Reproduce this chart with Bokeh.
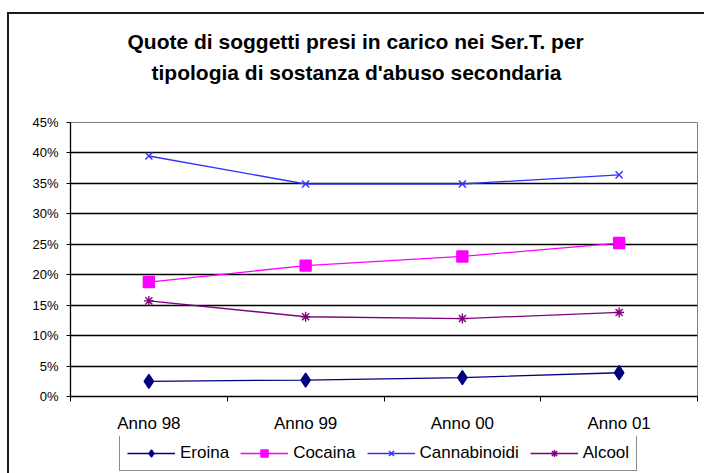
from bokeh.plotting import figure
from bokeh.layouts import column
from bokeh.models import Range1d, FixedTicker, NumeralTickFormatter, Title, Legend, LegendItem
from bokeh.embed import file_html
from bokeh.resources import INLINE
import numpy as np

categories = ["Anno 98", "Anno 99", "Anno 00", "Anno 01"]
eroina = [0.025, 0.027, 0.031, 0.039]
cocaina = [0.188, 0.215, 0.230, 0.252]
cannabinoidi = [0.395, 0.349, 0.349, 0.364]
alcool = [0.157, 0.131, 0.128, 0.138]
y_ticks = [0, 0.05, 0.10, 0.15, 0.20, 0.25, 0.30, 0.35, 0.40, 0.45]
title_lines = ["Quote di soggetti presi in carico nei Ser.T. per",
               "tipologia di sostanza d'abuso secondaria"]

FONT = "Liberation Sans"
xs = list(np.arange(len(categories)) + 0.5)

p = figure(frame_width=627, frame_height=274, output_backend="svg", toolbar_location=None,
           title=None, x_range=Range1d(0, len(categories)), y_range=Range1d(0, 0.45),
           min_border_left=61, min_border_right=7, min_border_top=108, min_border_bottom=40)

p.outline_line_color = "#808080"
p.outline_line_width = 1
p.background_fill_color = "white"
p.border_fill_color = "white"

# titles (first added is nearest the frame); a blank spacer keeps them high
spacer = Title(text=" ", text_font=FONT, text_font_size="21px", standoff=10)
t2 = Title(text=title_lines[1], align="left", offset=81,
           text_font=FONT, text_font_size="21px", text_font_style="bold",
           text_color="black", standoff=8)
t1 = Title(text=title_lines[0], align="left", offset=57,
           text_font=FONT, text_font_size="21px", text_font_style="bold",
           text_color="black", standoff=4)
p.add_layout(spacer, "above")
p.add_layout(t2, "above")
p.add_layout(t1, "above")

# axes
p.xgrid.visible = False
p.ygrid.grid_line_color = "black"
p.ygrid.grid_line_width = 1.3
p.yaxis.ticker = FixedTicker(ticks=y_ticks)
p.yaxis.formatter = NumeralTickFormatter(format="0%")
p.yaxis.minor_tick_line_color = None
p.yaxis.major_tick_in = 0
p.yaxis.major_tick_out = 4
p.yaxis.axis_line_color = "black"
p.yaxis.axis_line_width = 1.3
p.yaxis.major_tick_line_color = "black"
p.yaxis.major_label_text_font = FONT
p.yaxis.major_label_text_font_size = "13px"
p.yaxis.major_label_text_color = "black"
p.yaxis.major_label_standoff = 8

p.xaxis.ticker = FixedTicker(ticks=xs, minor_ticks=list(range(len(categories) + 1)))
p.xaxis.major_label_overrides = {x: c for x, c in zip(xs, categories)}
p.xaxis.major_tick_in = 0
p.xaxis.major_tick_out = 0
p.xaxis.minor_tick_in = 0
p.xaxis.minor_tick_out = 5
p.xaxis.minor_tick_line_color = "black"
p.xaxis.axis_line_color = "black"
p.xaxis.axis_line_width = 1.3
p.xaxis.major_label_text_font = FONT
p.xaxis.major_label_text_font_size = "17px"
p.xaxis.major_label_text_color = "black"
p.xaxis.major_label_standoff = 12

series = [
    ("Eroina", eroina, "#000080", "diamond", 14),
    ("Cocaina", cocaina, "#ff00ff", "square", 11),
    ("Cannabinoidi", cannabinoidi, "#3030ff", "x", 10),
    ("Alcool", alcool, "#800080", "asterisk", 10),
]

# legend strip below the chart (same series styles; its ranges show no data)
lf = figure(width=695, height=37, output_backend="svg", toolbar_location=None,
            x_axis_type=None, y_axis_type=None, title=None,
            x_range=Range1d(0, len(categories)), y_range=Range1d(1, 2),
            min_border_left=0, min_border_right=0, min_border_top=0, min_border_bottom=0)
lf.outline_line_color = None
lf.grid.visible = False
lf.background_fill_color = "white"
lf.border_fill_color = "white"

items = []
for name, vals, col, mk, sz in series:
    p.line(xs, vals, line_color=col, line_width=1.3)
    p.scatter(xs, vals, marker=mk, size=sz, line_color=col, fill_color=col, line_width=1.4)
    l1 = lf.line(xs, vals, line_color=col, line_width=1.3)
    l2 = lf.scatter(xs, vals, marker=mk, size=sz, line_color=col, fill_color=col, line_width=1.4)
    items.append(LegendItem(label=name, renderers=[l1, l2]))

legend = Legend(items=items, orientation="horizontal", location=(49, 2),
                border_line_color="#1a1a1a", border_line_width=1.6,
                label_text_font=FONT, label_text_font_size="17px", label_text_color="black",
                glyph_width=48, glyph_height=18, label_standoff=5, spacing=11,
                padding=7, margin=0, background_fill_color="white", background_fill_alpha=1)
lf.add_layout(legend, "center")

layout = column(p, lf, spacing=0)
layout.styles = {"margin-left": "7px", "margin-top": "12px",
                 "border-left": "2px solid #1a1a1a", "border-top": "2px solid #1a1a1a"}

open("out.html", "w").write(file_html(layout, INLINE))
